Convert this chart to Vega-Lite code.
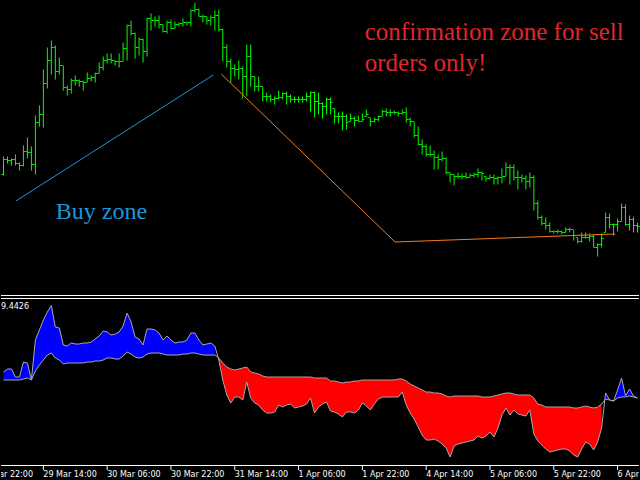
{
"$schema": "https://vega.github.io/schema/vega-lite/v6.json",
"width": 640, "height": 480,
"autosize": {"type": "fit", "contains": "padding"},
"padding": 0,
"background": "#000000",
"config": {"view": {"stroke": null}},
"datasets": {
"bars": [
{"i":0,"o":125,"h":143,"l":124,"c":140,"f":2.8,"s":2.0,"z":"buy","g":0},
{"i":1,"o":140,"h":143,"l":136,"c":139,"f":3.1,"s":2.0,"z":"buy","g":0},
{"i":2,"o":139,"h":141,"l":134,"c":140,"f":3.1,"s":2.0,"z":"buy","g":0},
{"i":3,"o":140,"h":145,"l":134,"c":136,"f":2.3,"s":2.0,"z":"buy","g":0},
{"i":4,"o":136,"h":137,"l":129,"c":134,"f":2.3,"s":2.0,"z":"buy","g":0},
{"i":5,"o":134,"h":154,"l":133,"c":148,"f":3.8,"s":2.1,"z":"buy","g":0},
{"i":6,"o":148,"h":162,"l":141,"c":147,"f":3.7,"s":2.2,"z":"buy","g":0},
{"i":7,"o":147,"h":153,"l":129,"c":135,"f":2.0,"s":2.0,"z":"buy","g":0},
{"i":8,"o":135,"h":184,"l":125,"c":177,"f":6.0,"s":2.9,"z":"buy","g":0},
{"i":9,"o":177,"h":194,"l":173,"c":185,"f":7.0,"s":3.5,"z":"buy","g":0},
{"i":10,"o":185,"h":230,"l":172,"c":216,"f":8.0,"s":4.0,"z":"buy","g":0},
{"i":11,"o":216,"h":252,"l":211,"c":239,"f":8.8,"s":4.5,"z":"buy","g":0},
{"i":12,"o":239,"h":259,"l":225,"c":252,"f":9.4426,"s":4.7,"z":"buy","g":0},
{"i":13,"o":252,"h":254,"l":220,"c":228,"f":7.3,"s":4.2,"z":"buy","g":0},
{"i":14,"o":228,"h":242,"l":225,"c":234,"f":7.2,"s":4.0,"z":"buy","g":0},
{"i":15,"o":234,"h":234,"l":209,"c":212,"f":5.5,"s":3.6,"z":"buy","g":0},
{"i":16,"o":212,"h":214,"l":204,"c":210,"f":5.4,"s":3.7,"z":"buy","g":0},
{"i":17,"o":210,"h":221,"l":206,"c":219,"f":5.7,"s":3.7,"z":"buy","g":0},
{"i":18,"o":219,"h":224,"l":214,"c":219,"f":5.6,"s":3.7,"z":"buy","g":0},
{"i":19,"o":219,"h":220,"l":213,"c":218,"f":5.6,"s":3.7,"z":"buy","g":0},
{"i":20,"o":218,"h":219,"l":209,"c":217,"f":5.7,"s":3.7,"z":"buy","g":0},
{"i":21,"o":217,"h":227,"l":217,"c":221,"f":5.7,"s":3.8,"z":"buy","g":0},
{"i":22,"o":221,"h":224,"l":218,"c":222,"f":5.8,"s":3.8,"z":"buy","g":0},
{"i":23,"o":222,"h":227,"l":217,"c":226,"f":6.1,"s":3.9,"z":"buy","g":0},
{"i":24,"o":226,"h":237,"l":226,"c":232,"f":6.4,"s":3.9,"z":"buy","g":0},
{"i":25,"o":232,"h":243,"l":229,"c":239,"f":6.9,"s":4.0,"z":"buy","g":0},
{"i":26,"o":239,"h":246,"l":236,"c":240,"f":6.8,"s":4.2,"z":"buy","g":0},
{"i":27,"o":240,"h":246,"l":236,"c":239,"f":6.5,"s":4.2,"z":"buy","g":0},
{"i":28,"o":239,"h":239,"l":234,"c":238,"f":6.6,"s":4.1,"z":"buy","g":0},
{"i":29,"o":238,"h":246,"l":232,"c":238,"f":6.8,"s":4.1,"z":"buy","g":0},
{"i":30,"o":238,"h":257,"l":238,"c":251,"f":7.4,"s":4.4,"z":"buy","g":0},
{"i":31,"o":251,"h":275,"l":239,"c":274,"f":8.7,"s":4.8,"z":"buy","g":0},
{"i":32,"o":274,"h":279,"l":264,"c":266,"f":7.8,"s":4.6,"z":"buy","g":0},
{"i":33,"o":266,"h":267,"l":241,"c":252,"f":6.3,"s":4.3,"z":"buy","g":0},
{"i":34,"o":252,"h":262,"l":244,"c":260,"f":6.1,"s":4.2,"z":"buy","g":0},
{"i":35,"o":260,"h":261,"l":237,"c":248,"f":5.5,"s":4.3,"z":"buy","g":0},
{"i":36,"o":248,"h":282,"l":243,"c":281,"f":7.1,"s":4.6,"z":"buy","g":0},
{"i":37,"o":281,"h":286,"l":269,"c":279,"f":7.1,"s":4.7,"z":"buy","g":0},
{"i":38,"o":279,"h":283,"l":273,"c":279,"f":7.0,"s":4.7,"z":"buy","g":0},
{"i":39,"o":279,"h":284,"l":271,"c":275,"f":6.7,"s":4.7,"z":"buy","g":0},
{"i":40,"o":275,"h":275,"l":267,"c":268,"f":6.0,"s":4.6,"z":"buy","g":0},
{"i":41,"o":268,"h":279,"l":266,"c":277,"f":6.4,"s":4.5,"z":"buy","g":0},
{"i":42,"o":277,"h":280,"l":270,"c":271,"f":6.0,"s":4.5,"z":"buy","g":0},
{"i":43,"o":271,"h":278,"l":271,"c":275,"f":5.7,"s":4.5,"z":"buy","g":0},
{"i":44,"o":275,"h":277,"l":273,"c":276,"f":5.8,"s":4.5,"z":"buy","g":0},
{"i":45,"o":276,"h":281,"l":273,"c":277,"f":5.8,"s":4.6,"z":"buy","g":0},
{"i":46,"o":277,"h":278,"l":274,"c":277,"f":6.0,"s":4.6,"z":"buy","g":0},
{"i":47,"o":277,"h":290,"l":273,"c":289,"f":6.7,"s":4.7,"z":"buy","g":0},
{"i":48,"o":289,"h":297,"l":287,"c":290,"f":6.7,"s":4.7,"z":"buy","g":0},
{"i":49,"o":290,"h":291,"l":283,"c":283,"f":6.0,"s":4.6,"z":"buy","g":0},
{"i":50,"o":283,"h":285,"l":277,"c":283,"f":5.5,"s":4.5,"z":"buy","g":0},
{"i":51,"o":283,"h":283,"l":275,"c":279,"f":5.6,"s":4.5,"z":"buy","g":0},
{"i":52,"o":279,"h":284,"l":274,"c":282,"f":5.7,"s":4.5,"z":"buy","g":0},
{"i":53,"o":282,"h":289,"l":269,"c":284,"f":5.4,"s":4.5,"z":"buy","g":0},
{"i":54,"o":284,"h":290,"l":268,"c":270,"f":4.0,"s":4.2,"z":"sell","g":1},
{"i":55,"o":270,"h":271,"l":238,"c":252,"f":2.0,"s":3.7,"z":"sell","g":1},
{"i":56,"o":252,"h":255,"l":232,"c":238,"f":0.5,"s":3.3,"z":"sell","g":1},
{"i":57,"o":238,"h":241,"l":217,"c":231,"f":-0.3,"s":3.1,"z":"sell","g":1},
{"i":58,"o":231,"h":235,"l":223,"c":230,"f":0.3,"s":3.0,"z":"sell","g":1},
{"i":59,"o":230,"h":239,"l":220,"c":231,"f":0.3,"s":3.1,"z":"sell","g":1},
{"i":60,"o":231,"h":233,"l":201,"c":223,"f":0.0,"s":3.2,"z":"sell","g":1},
{"i":61,"o":223,"h":255,"l":203,"c":243,"f":1.8,"s":3.3,"z":"sell","g":1},
{"i":62,"o":243,"h":255,"l":213,"c":223,"f":0.2,"s":2.8,"z":"sell","g":1},
{"i":63,"o":223,"h":223,"l":208,"c":213,"f":-0.3,"s":2.7,"z":"sell","g":1},
{"i":64,"o":213,"h":223,"l":208,"c":213,"f":-0.5,"s":2.6,"z":"sell","g":1},
{"i":65,"o":213,"h":213,"l":198,"c":203,"f":-1.0,"s":2.4,"z":"sell","g":1},
{"i":66,"o":203,"h":207,"l":198,"c":203,"f":-1.3,"s":2.3,"z":"sell","g":1},
{"i":67,"o":203,"h":205,"l":197,"c":200,"f":-1.3,"s":2.3,"z":"sell","g":1},
{"i":68,"o":200,"h":203,"l":195,"c":201,"f":-1.2,"s":2.3,"z":"sell","g":1},
{"i":69,"o":201,"h":209,"l":200,"c":202,"f":-0.5,"s":2.3,"z":"sell","g":1},
{"i":70,"o":202,"h":207,"l":200,"c":206,"f":-0.7,"s":2.3,"z":"sell","g":1},
{"i":71,"o":206,"h":208,"l":195,"c":203,"f":-0.5,"s":2.3,"z":"sell","g":1},
{"i":72,"o":203,"h":205,"l":197,"c":200,"f":-0.4,"s":2.3,"z":"sell","g":1},
{"i":73,"o":200,"h":203,"l":197,"c":200,"f":-0.8,"s":2.3,"z":"sell","g":1},
{"i":74,"o":200,"h":203,"l":197,"c":200,"f":-0.7,"s":2.3,"z":"sell","g":1},
{"i":75,"o":200,"h":203,"l":197,"c":200,"f":-0.6,"s":2.3,"z":"sell","g":1},
{"i":76,"o":200,"h":207,"l":198,"c":203,"f":-0.4,"s":2.3,"z":"sell","g":1},
{"i":77,"o":203,"h":208,"l":188,"c":207,"f":0.2,"s":2.3,"z":"sell","g":1},
{"i":78,"o":207,"h":208,"l":182,"c":198,"f":-1.3,"s":2.2,"z":"sell","g":1},
{"i":79,"o":198,"h":207,"l":185,"c":196,"f":-0.7,"s":2.2,"z":"sell","g":1},
{"i":80,"o":196,"h":197,"l":181,"c":193,"f":-0.4,"s":2.2,"z":"sell","g":1},
{"i":81,"o":193,"h":202,"l":185,"c":200,"f":-0.2,"s":2.2,"z":"sell","g":1},
{"i":82,"o":200,"h":202,"l":185,"c":197,"f":-1.1,"s":1.9,"z":"sell","g":1},
{"i":83,"o":191,"h":191,"l":176,"c":183,"f":-1.2,"s":1.9,"z":"sell","g":1},
{"i":84,"o":183,"h":187,"l":176,"c":183,"f":-1.4,"s":1.8,"z":"sell","g":1},
{"i":85,"o":183,"h":188,"l":169,"c":183,"f":-1.7,"s":1.7,"z":"sell","g":1},
{"i":86,"o":183,"h":185,"l":170,"c":177,"f":-1.2,"s":1.8,"z":"sell","g":1},
{"i":87,"o":178,"h":186,"l":178,"c":181,"f":-1.2,"s":1.8,"z":"sell","g":1},
{"i":88,"o":181,"h":183,"l":173,"c":179,"f":-1.3,"s":1.9,"z":"sell","g":1},
{"i":89,"o":179,"h":184,"l":178,"c":178,"f":-1.0,"s":1.9,"z":"sell","g":1},
{"i":90,"o":178,"h":186,"l":178,"c":180,"f":-0.3,"s":2.0,"z":"sell","g":1},
{"i":91,"o":183,"h":190,"l":183,"c":185,"f":-0.6,"s":2.0,"z":"sell","g":1},
{"i":92,"o":182,"h":182,"l":173,"c":178,"f":-1.0,"s":2.0,"z":"sell","g":1},
{"i":93,"o":178,"h":182,"l":177,"c":180,"f":-0.4,"s":2.0,"z":"sell","g":1},
{"i":94,"o":180,"h":184,"l":178,"c":183,"f":0.1,"s":2.0,"z":"sell","g":1},
{"i":95,"o":183,"h":190,"l":183,"c":188,"f":0.3,"s":2.0,"z":"sell","g":1},
{"i":96,"o":188,"h":191,"l":183,"c":187,"f":0.3,"s":2.0,"z":"sell","g":1},
{"i":97,"o":187,"h":190,"l":183,"c":187,"f":0.3,"s":2.0,"z":"sell","g":1},
{"i":98,"o":187,"h":189,"l":185,"c":187,"f":0.3,"s":2.0,"z":"sell","g":1},
{"i":99,"o":187,"h":188,"l":183,"c":186,"f":0.3,"s":2.1,"z":"sell","g":1},
{"i":100,"o":186,"h":190,"l":185,"c":187,"f":0.8,"s":2.1,"z":"sell","g":1},
{"i":101,"o":187,"h":192,"l":177,"c":180,"f":-0.5,"s":1.9,"z":"sell","g":1},
{"i":102,"o":180,"h":182,"l":173,"c":178,"f":-1.3,"s":1.6,"z":"sell","g":1},
{"i":103,"o":178,"h":178,"l":162,"c":164,"f":-1.9,"s":1.4,"z":"sell","g":1},
{"i":104,"o":164,"h":173,"l":154,"c":155,"f":-2.7,"s":1.2,"z":"sell","g":1},
{"i":105,"o":155,"h":160,"l":145,"c":153,"f":-3.5,"s":1.0,"z":"sell","g":1},
{"i":106,"o":153,"h":155,"l":143,"c":145,"f":-4.0,"s":0.8,"z":"sell","g":1},
{"i":107,"o":145,"h":154,"l":143,"c":145,"f":-4.0,"s":0.8,"z":"sell","g":1},
{"i":108,"o":145,"h":149,"l":130,"c":142,"f":-3.9,"s":0.7,"z":"sell","g":1},
{"i":109,"o":142,"h":145,"l":130,"c":140,"f":-4.1,"s":0.7,"z":"sell","g":1},
{"i":110,"o":140,"h":148,"l":138,"c":141,"f":-4.4,"s":0.6,"z":"sell","g":1},
{"i":111,"o":141,"h":142,"l":125,"c":127,"f":-4.8,"s":0.4,"z":"sell","g":1},
{"i":112,"o":127,"h":127,"l":117,"c":125,"f":-5.7,"s":0.3,"z":"sell","g":1},
{"i":113,"o":125,"h":125,"l":114,"c":123,"f":-4.6,"s":0.4,"z":"sell","g":1},
{"i":114,"o":123,"h":127,"l":121,"c":123,"f":-4.4,"s":0.4,"z":"sell","g":1},
{"i":115,"o":123,"h":126,"l":120,"c":123,"f":-4.3,"s":0.4,"z":"sell","g":1},
{"i":116,"o":123,"h":127,"l":121,"c":122,"f":-4.2,"s":0.4,"z":"sell","g":1},
{"i":117,"o":122,"h":126,"l":122,"c":124,"f":-4.1,"s":0.4,"z":"sell","g":1},
{"i":118,"o":124,"h":127,"l":122,"c":125,"f":-4.0,"s":0.4,"z":"sell","g":1},
{"i":119,"o":125,"h":131,"l":122,"c":127,"f":-3.6,"s":0.4,"z":"sell","g":1},
{"i":120,"o":127,"h":128,"l":119,"c":126,"f":-3.8,"s":0.3,"z":"sell","g":1},
{"i":121,"o":123,"h":123,"l":118,"c":121,"f":-3.6,"s":0.3,"z":"sell","g":1},
{"i":122,"o":121,"h":125,"l":120,"c":122,"f":-3.2,"s":0.3,"z":"sell","g":1},
{"i":123,"o":122,"h":125,"l":115,"c":121,"f":-3.7,"s":0.4,"z":"sell","g":1},
{"i":124,"o":121,"h":123,"l":115,"c":122,"f":-2.8,"s":0.5,"z":"sell","g":1},
{"i":125,"o":122,"h":131,"l":116,"c":123,"f":-1.5,"s":0.6,"z":"sell","g":1},
{"i":126,"o":123,"h":137,"l":123,"c":132,"f":-0.8,"s":0.7,"z":"sell","g":1},
{"i":127,"o":132,"h":135,"l":115,"c":132,"f":-1.5,"s":0.7,"z":"sell","g":1},
{"i":128,"o":132,"h":135,"l":119,"c":122,"f":-1.0,"s":0.6,"z":"sell","g":1},
{"i":129,"o":122,"h":129,"l":110,"c":122,"f":-1.4,"s":0.5,"z":"sell","g":1},
{"i":130,"o":122,"h":125,"l":117,"c":121,"f":-1.5,"s":0.5,"z":"sell","g":1},
{"i":131,"o":121,"h":124,"l":110,"c":118,"f":-1.6,"s":0.5,"z":"sell","g":1},
{"i":132,"o":118,"h":127,"l":112,"c":122,"f":-1.0,"s":0.5,"z":"sell","g":1},
{"i":133,"o":122,"h":124,"l":89,"c":96,"f":-3.4,"s":0.2,"z":"sell","g":1},
{"i":134,"o":96,"h":99,"l":80,"c":82,"f":-4.1,"s":-0.4,"z":"sell","g":1},
{"i":135,"o":82,"h":84,"l":74,"c":76,"f":-4.5,"s":-0.5,"z":"sell","g":1},
{"i":136,"o":76,"h":82,"l":70,"c":74,"f":-4.9,"s":-0.7,"z":"sell","g":1},
{"i":137,"o":74,"h":77,"l":67,"c":68,"f":-5.2,"s":-0.7,"z":"sell","g":1},
{"i":138,"o":68,"h":69,"l":66,"c":68,"f":-5.1,"s":-0.7,"z":"sell","g":1},
{"i":139,"o":68,"h":70,"l":66,"c":68,"f":-5.0,"s":-0.7,"z":"sell","g":1},
{"i":140,"o":68,"h":69,"l":65,"c":67,"f":-4.9,"s":-0.7,"z":"sell","g":1},
{"i":141,"o":67,"h":72,"l":67,"c":70,"f":-4.9,"s":-0.7,"z":"sell","g":1},
{"i":142,"o":70,"h":72,"l":67,"c":70,"f":-5.1,"s":-0.7,"z":"sell","g":1},
{"i":143,"o":70,"h":70,"l":59,"c":64,"f":-5.5,"s":-0.8,"z":"sell","g":1},
{"i":144,"o":62,"h":62,"l":56,"c":58,"f":-5.7,"s":-0.8,"z":"sell","g":1},
{"i":145,"o":58,"h":67,"l":57,"c":62,"f":-4.9,"s":-0.7,"z":"sell","g":1},
{"i":146,"o":62,"h":67,"l":61,"c":62,"f":-4.2,"s":-0.6,"z":"sell","g":1},
{"i":147,"o":62,"h":66,"l":58,"c":63,"f":-4.4,"s":-0.7,"z":"sell","g":1},
{"i":148,"o":63,"h":65,"l":52,"c":52,"f":-5.0,"s":-0.8,"z":"sell","g":1},
{"i":149,"o":52,"h":56,"l":43,"c":55,"f":-4.2,"s":-0.7,"z":"sell","g":1},
{"i":150,"o":55,"h":66,"l":52,"c":61,"f":-2.8,"s":-0.4,"z":"sell","g":1},
{"i":151,"o":67,"h":87,"l":67,"c":82,"f":0.7,"s":0.1,"z":"buy","g":2},
{"i":152,"o":82,"h":86,"l":71,"c":75,"f":0.0,"s":0.0,"z":"buy","g":2},
{"i":153,"o":75,"h":76,"l":64,"c":75,"f":-0.1,"s":-0.1,"z":"buy","g":2},
{"i":154,"o":75,"h":81,"l":68,"c":78,"f":1.0,"s":0.2,"z":"buy","g":2},
{"i":155,"o":78,"h":96,"l":78,"c":92,"f":2.2,"s":0.3,"z":"buy","g":2},
{"i":156,"o":92,"h":95,"l":74,"c":75,"f":0.4,"s":0.3,"z":"buy","g":2},
{"i":157,"o":75,"h":84,"l":69,"c":80,"f":1.1,"s":0.4,"z":"buy","g":2},
{"i":158,"o":80,"h":83,"l":67,"c":74,"f":0.4,"s":0.3,"z":"buy","g":2},
{"i":159,"o":74,"h":77,"l":67,"c":73,"f":0.2,"s":0.2,"z":"buy","g":2}
],
"trend": [
{"id":"buy","k":0,"i":3.1,"p":98.5},
{"id":"buy","k":1,"i":52.6,"p":224.5},
{"id":"sell","k":0,"i":54.6,"p":225.5},
{"id":"sell","k":1,"i":98.2,"p":57.5},
{"id":"sell","k":2,"i":153.4,"p":65.5}
],
"notes": [
{"t":"confirmation zone for sell","k":"sell","i":90.6,"p":259.5,"fs":25},
{"t":"orders only!","k":"sell","i":90.6,"p":228.5,"fs":25},
{"t":"Buy zone","k":"buy","i":13.1,"p":80.5,"fs":24}
],
"times": [
{"i":-6,"lab":"28 Mar 22:00"},
{"i":10,"lab":"29 Mar 14:00"},
{"i":26,"lab":"30 Mar 06:00"},
{"i":42,"lab":"30 Mar 22:00"},
{"i":58,"lab":"31 Mar 14:00"},
{"i":74,"lab":"1 Apr 06:00"},
{"i":90,"lab":"1 Apr 22:00"},
{"i":106,"lab":"4 Apr 14:00"},
{"i":122,"lab":"5 Apr 06:00"},
{"i":138,"lab":"5 Apr 22:00"},
{"i":154,"lab":"6 Apr 14:00"}
]
},
"resolve": {"scale": {"y": "independent"}},
"layer": [
{"layer": [
{"data": {"name": "bars"},
 "mark": {"type": "rule", "color": "#00ff00", "strokeWidth": 1},
 "encoding": {
  "x": {"field": "i", "type": "quantitative", "scale": {"domain": [-0.625, 159.375], "nice": false, "zero": false}, "axis": null},
  "y": {"field": "l", "type": "quantitative", "scale": {"domain": [-180.5, 299.5], "nice": false, "zero": false}, "axis": null},
  "y2": {"field": "h"}}},
{"data": {"name": "bars"},
 "mark": {"type": "tick", "orient": "horizontal", "size": 1.5, "thickness": 1, "xOffset": -1.25, "color": "#00ff00", "opacity": 1},
 "encoding": {
  "x": {"field": "i", "type": "quantitative", "scale": {"domain": [-0.625, 159.375], "nice": false, "zero": false}, "axis": null},
  "y": {"field": "o", "type": "quantitative", "scale": {"domain": [-180.5, 299.5], "nice": false, "zero": false}, "axis": null}}},
{"data": {"name": "bars"},
 "mark": {"type": "tick", "orient": "horizontal", "size": 1.5, "thickness": 1, "xOffset": 1.25, "color": "#00ff00", "opacity": 1},
 "encoding": {
  "x": {"field": "i", "type": "quantitative", "scale": {"domain": [-0.625, 159.375], "nice": false, "zero": false}, "axis": null},
  "y": {"field": "c", "type": "quantitative", "scale": {"domain": [-180.5, 299.5], "nice": false, "zero": false}, "axis": null}}},
{"data": {"name": "trend"},
 "mark": {"type": "line", "strokeWidth": 1},
 "encoding": {
  "x": {"field": "i", "type": "quantitative", "scale": {"domain": [-0.625, 159.375], "nice": false, "zero": false}, "axis": null},
  "y": {"field": "p", "type": "quantitative", "scale": {"domain": [-180.5, 299.5], "nice": false, "zero": false}, "axis": null},
  "detail": {"field": "id"},
  "order": {"field": "k"},
  "color": {"condition": {"test": "datum.id === 'buy'", "value": "#1b98d8"}, "value": "#f47b20"}}},
{"data": {"name": "notes"},
 "mark": {"type": "text", "align": "left", "baseline": "alphabetic", "font": "Liberation Serif"},
 "encoding": {
  "x": {"field": "i", "type": "quantitative", "scale": {"domain": [-0.625, 159.375], "nice": false, "zero": false}, "axis": null},
  "y": {"field": "p", "type": "quantitative", "scale": {"domain": [-180.5, 299.5], "nice": false, "zero": false}, "axis": null},
  "text": {"field": "t"},
  "size": {"field": "fs", "type": "quantitative", "scale": null},
  "color": {"condition": {"test": "datum.k === 'buy'", "value": "#1b98d8"}, "value": "#e3242b"}}}
]},
{"layer": [
{"data": {"name": "bars"},
 "mark": {"type": "area", "opacity": 1},
 "encoding": {
  "x": {"field": "i", "type": "quantitative", "scale": {"domain": [-0.625, 159.375], "nice": false, "zero": false}, "axis": null},
  "y": {"field": "f", "type": "quantitative", "scale": {"domain": [-8, 40], "nice": false, "zero": false}, "axis": null},
  "y2": {"field": "s"},
  "detail": {"field": "g"},
  "color": {"condition": {"test": "datum.z === 'buy'", "value": "#0000ff"}, "value": "#ff0000"}}},
{"data": {"name": "bars"},
 "mark": {"type": "line", "color": "#a9a9a9", "strokeWidth": 1},
 "encoding": {
  "x": {"field": "i", "type": "quantitative", "scale": {"domain": [-0.625, 159.375], "nice": false, "zero": false}, "axis": null},
  "y": {"field": "f", "type": "quantitative", "scale": {"domain": [-8, 40], "nice": false, "zero": false}, "axis": null}}},
{"data": {"name": "bars"},
 "mark": {"type": "line", "color": "#a9a9a9", "strokeWidth": 1},
 "encoding": {
  "x": {"field": "i", "type": "quantitative", "scale": {"domain": [-0.625, 159.375], "nice": false, "zero": false}, "axis": null},
  "y": {"field": "s", "type": "quantitative", "scale": {"domain": [-8, 40], "nice": false, "zero": false}, "axis": null}}},
{"data": {"values": [{"v": 10.45}, {"v": 10.15}, {"v": -6.55}]},
 "mark": {"type": "rule", "color": "#ffffff", "strokeWidth": 1},
 "encoding": {
  "y": {"field": "v", "type": "quantitative", "scale": {"domain": [-8, 40], "nice": false, "zero": false}, "axis": null}}},
{"data": {"name": "times"},
 "mark": {"type": "rule", "color": "#ffffff", "strokeWidth": 1, "clip": true},
 "encoding": {
  "x": {"field": "i", "type": "quantitative", "scale": {"domain": [-0.625, 159.375], "nice": false, "zero": false}, "axis": null},
  "y": {"datum": -6.5, "type": "quantitative", "scale": {"domain": [-8, 40], "nice": false, "zero": false}, "axis": null},
  "y2": {"datum": -7.0}}},
{"data": {"name": "times"},
 "mark": {"type": "text", "align": "left", "baseline": "alphabetic", "font": "DejaVu Sans", "fontSize": 8, "color": "#ffffff", "clip": true},
 "encoding": {
  "x": {"field": "i", "type": "quantitative", "scale": {"domain": [-0.625, 159.375], "nice": false, "zero": false}, "axis": null},
  "y": {"datum": -7.73, "type": "quantitative", "scale": {"domain": [-8, 40], "nice": false, "zero": false}, "axis": null},
  "text": {"field": "lab"}}},
{"data": {"values": [{"t": "9.4426", "i": -0.625, "v": 9.1}]},
 "mark": {"type": "text", "align": "left", "baseline": "alphabetic", "font": "DejaVu Sans", "fontSize": 8, "color": "#ffffff"},
 "encoding": {
  "x": {"field": "i", "type": "quantitative", "scale": {"domain": [-0.625, 159.375], "nice": false, "zero": false}, "axis": null},
  "y": {"field": "v", "type": "quantitative", "scale": {"domain": [-8, 40], "nice": false, "zero": false}, "axis": null},
  "text": {"field": "t"}}}
]}
]
}
